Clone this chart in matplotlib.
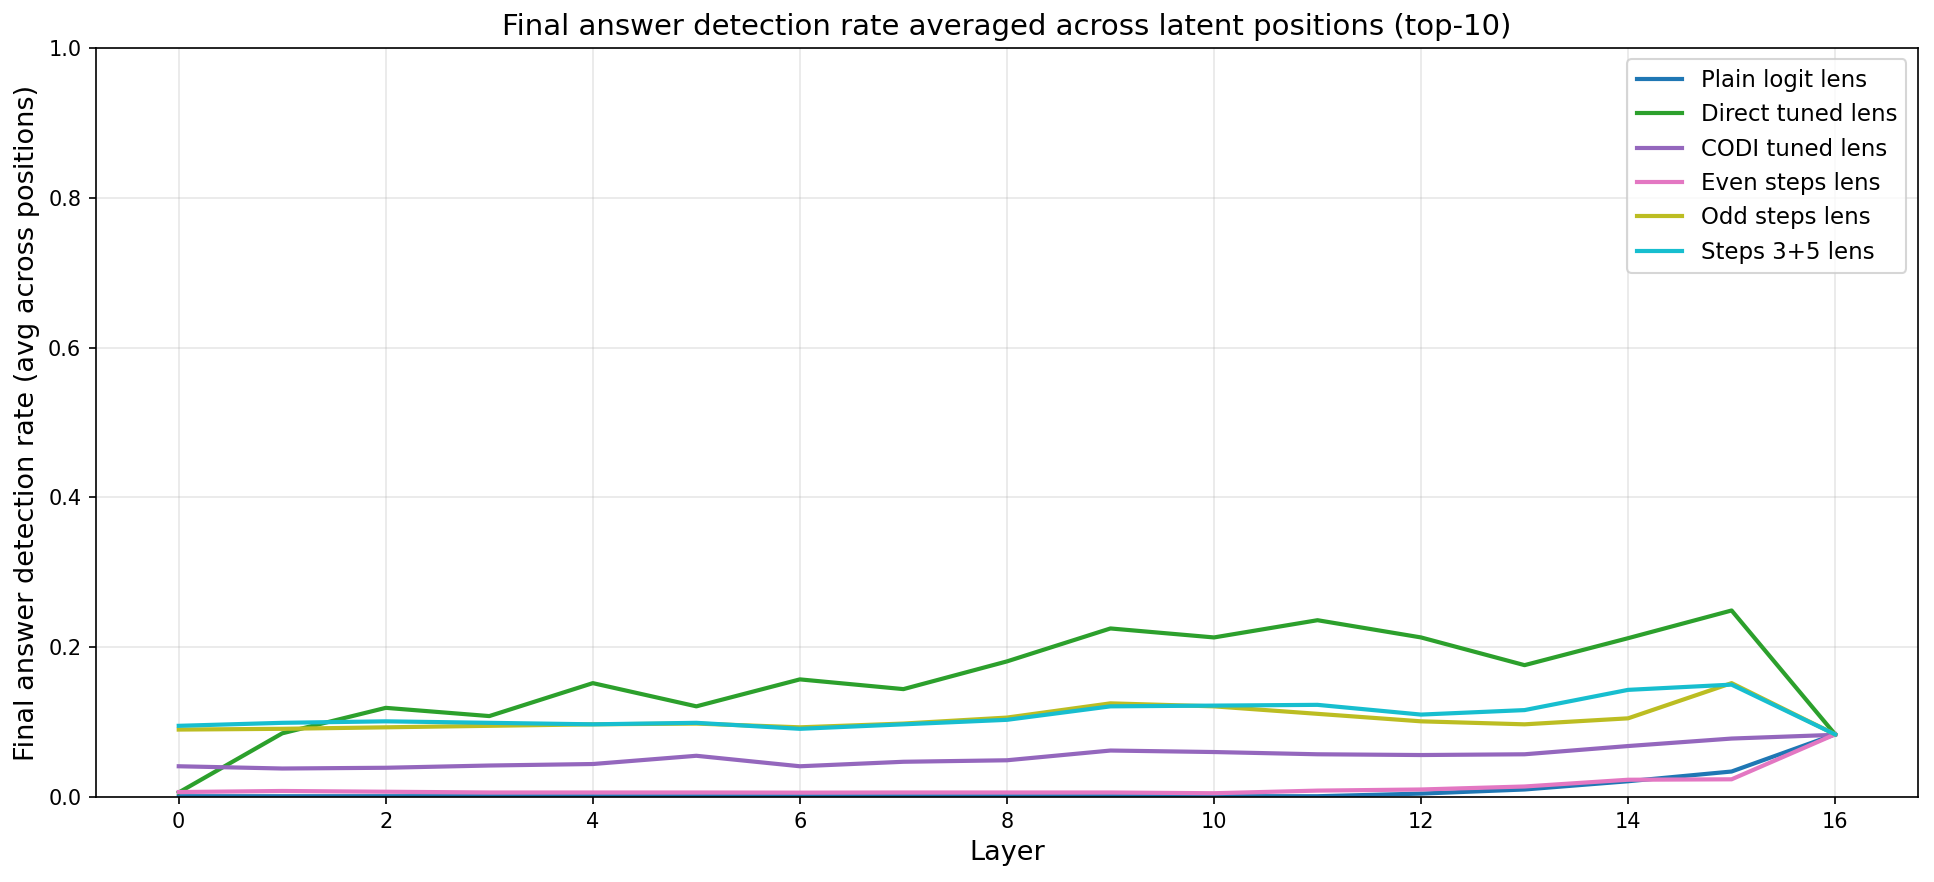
import matplotlib
matplotlib.use("Agg")
import matplotlib.pyplot as plt

layers = list(range(17))
plain_logit = [0.001, 0.001, 0.001, 0.001, 0.001, 0.001, 0.001, 0.001, 0.001, 0.001, 0.001,
               0.001, 0.0045, 0.010, 0.021, 0.034, 0.0836]
direct_tuned = [0.006, 0.085, 0.119, 0.108, 0.152, 0.121, 0.157, 0.144, 0.181, 0.225, 0.213,
                0.236, 0.213, 0.176, 0.212, 0.249, 0.0836]
codi_tuned = [0.041, 0.038, 0.039, 0.042, 0.044, 0.055, 0.041, 0.047, 0.049, 0.062, 0.060,
              0.057, 0.056, 0.057, 0.068, 0.078, 0.083]
even_steps = [0.0066, 0.008, 0.007, 0.006, 0.006, 0.006, 0.0058, 0.006, 0.006, 0.006, 0.005,
              0.0085, 0.010, 0.014, 0.023, 0.0236, 0.0836]
odd_steps = [0.090, 0.091, 0.093, 0.095, 0.097, 0.098, 0.093, 0.098, 0.106, 0.125, 0.121,
             0.111, 0.101, 0.097, 0.105, 0.152, 0.0836]
steps_35 = [0.095, 0.099, 0.101, 0.099, 0.097, 0.099, 0.091, 0.097, 0.103, 0.121, 0.122,
            0.123, 0.110, 0.116, 0.143, 0.150, 0.0836]

series = [
    ("Plain logit lens", plain_logit, "tab:blue"),
    ("Direct tuned lens", direct_tuned, "tab:green"),
    ("CODI tuned lens", codi_tuned, "tab:purple"),
    ("Even steps lens", even_steps, "tab:pink"),
    ("Odd steps lens", odd_steps, "tab:olive"),
    ("Steps 3+5 lens", steps_35, "tab:cyan"),
]

fig = plt.figure(figsize=(1934 / 150, 882 / 150), dpi=150)
ax = fig.add_axes([0.0496, 0.0964, 0.9421, 0.8492])
for name, vals, col in series:
    ax.plot(layers, vals, color=col, lw=2, label=name)

ax.set_ylim(0, 1)
ax.set_xticks(range(0, 17, 2))
ax.set_xlabel("Layer", fontsize=13)
ax.set_ylabel("Final answer detection rate (avg across positions)", fontsize=13)
ax.set_title("Final answer detection rate averaged across latent positions (top-10)", fontsize=14)
ax.grid(True, alpha=0.3)
ax.tick_params(labelsize=10)
ax.legend(loc="upper right", fontsize=11)

fig.savefig("out.png", dpi=150)
